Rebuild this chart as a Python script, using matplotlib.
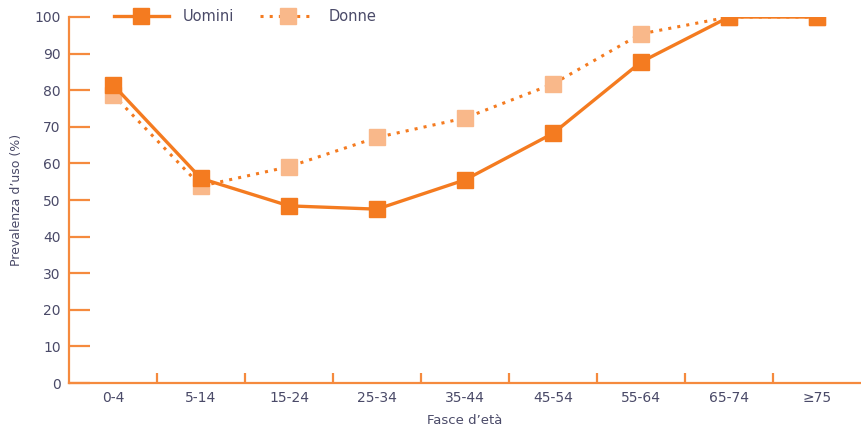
import matplotlib
matplotlib.use('Agg')
import matplotlib.pyplot as plt
import numpy as np

# Age bands and prevalence of use (%) by sex
age_bands = ['0-4', '5-14', '15-24', '25-34', '35-44', '45-54', '55-64', '65-74', '≥75']
men = [81.5, 55.9, 48.4, 47.5, 55.5, 68.2, 87.7, 100, 100]
women = [78.8, 53.8, 59.1, 67.1, 72.4, 81.7, 95.4, 100, 100]
y_ticks = [0, 10, 20, 30, 40, 50, 60, 70, 80, 90, 100]

axis_col = '#F58A3E'
men_col = '#F47B20'
women_col = '#F9B88A'
text_col = '#4A4A68'

plt.rcParams['font.family'] = ['DejaVu Sans']

fig = plt.figure(figsize=(8.61, 4.25), dpi=100)
ax = fig.add_axes([0.0801, 0.0988, 0.9199, 0.8612])

x = np.arange(len(age_bands))

ax.plot(x, women, color=men_col, linestyle=(0, (1, 2)), linewidth=2.2,
        marker='s', markersize=12, markerfacecolor=women_col,
        markeredgecolor=women_col, label='Donne', zorder=2)
ax.plot(x, men, color=men_col, linestyle='-', linewidth=2.4,
        marker='s', markersize=12, markerfacecolor=men_col,
        markeredgecolor=men_col, label='Uomini', zorder=3)

ax.set_xlim(-0.5, len(age_bands) - 0.5)
ax.set_ylim(0, 100)

for side in ['top', 'right']:
    ax.spines[side].set_visible(False)
for side in ['left', 'bottom']:
    ax.spines[side].set_color(axis_col)
    ax.spines[side].set_linewidth(1.6)

ax.set_yticks(y_ticks)
ax.tick_params(axis='y', direction='in', length=15, width=1.6, color=axis_col,
               labelcolor=text_col, labelsize=10, pad=6)
ax.set_xticks(x)
ax.set_xticklabels(age_bands)
ax.set_xticks(np.arange(0.5, len(age_bands) - 0.5), minor=True)
ax.tick_params(axis='x', which='major', length=0, labelcolor=text_col,
               labelsize=10, pad=6)
ax.tick_params(axis='x', which='minor', direction='in', length=7, width=1.6,
               color=axis_col)

ax.set_ylabel('Prevalenza d’uso (%)', fontsize=9, color=text_col, labelpad=8)
ax.set_xlabel('Fasce d’età', fontsize=9.5, color=text_col, labelpad=6)

handles, labels = ax.get_legend_handles_labels()
leg = ax.legend(handles[::-1], labels[::-1], ncol=2, loc='upper left',
                bbox_to_anchor=(0.04, 1.058), frameon=False, fontsize=10.5,
                handlelength=3.8, columnspacing=1.8, handletextpad=0.9)
for t in leg.get_texts():
    t.set_color(text_col)

fig.savefig('out.png', dpi=100)
